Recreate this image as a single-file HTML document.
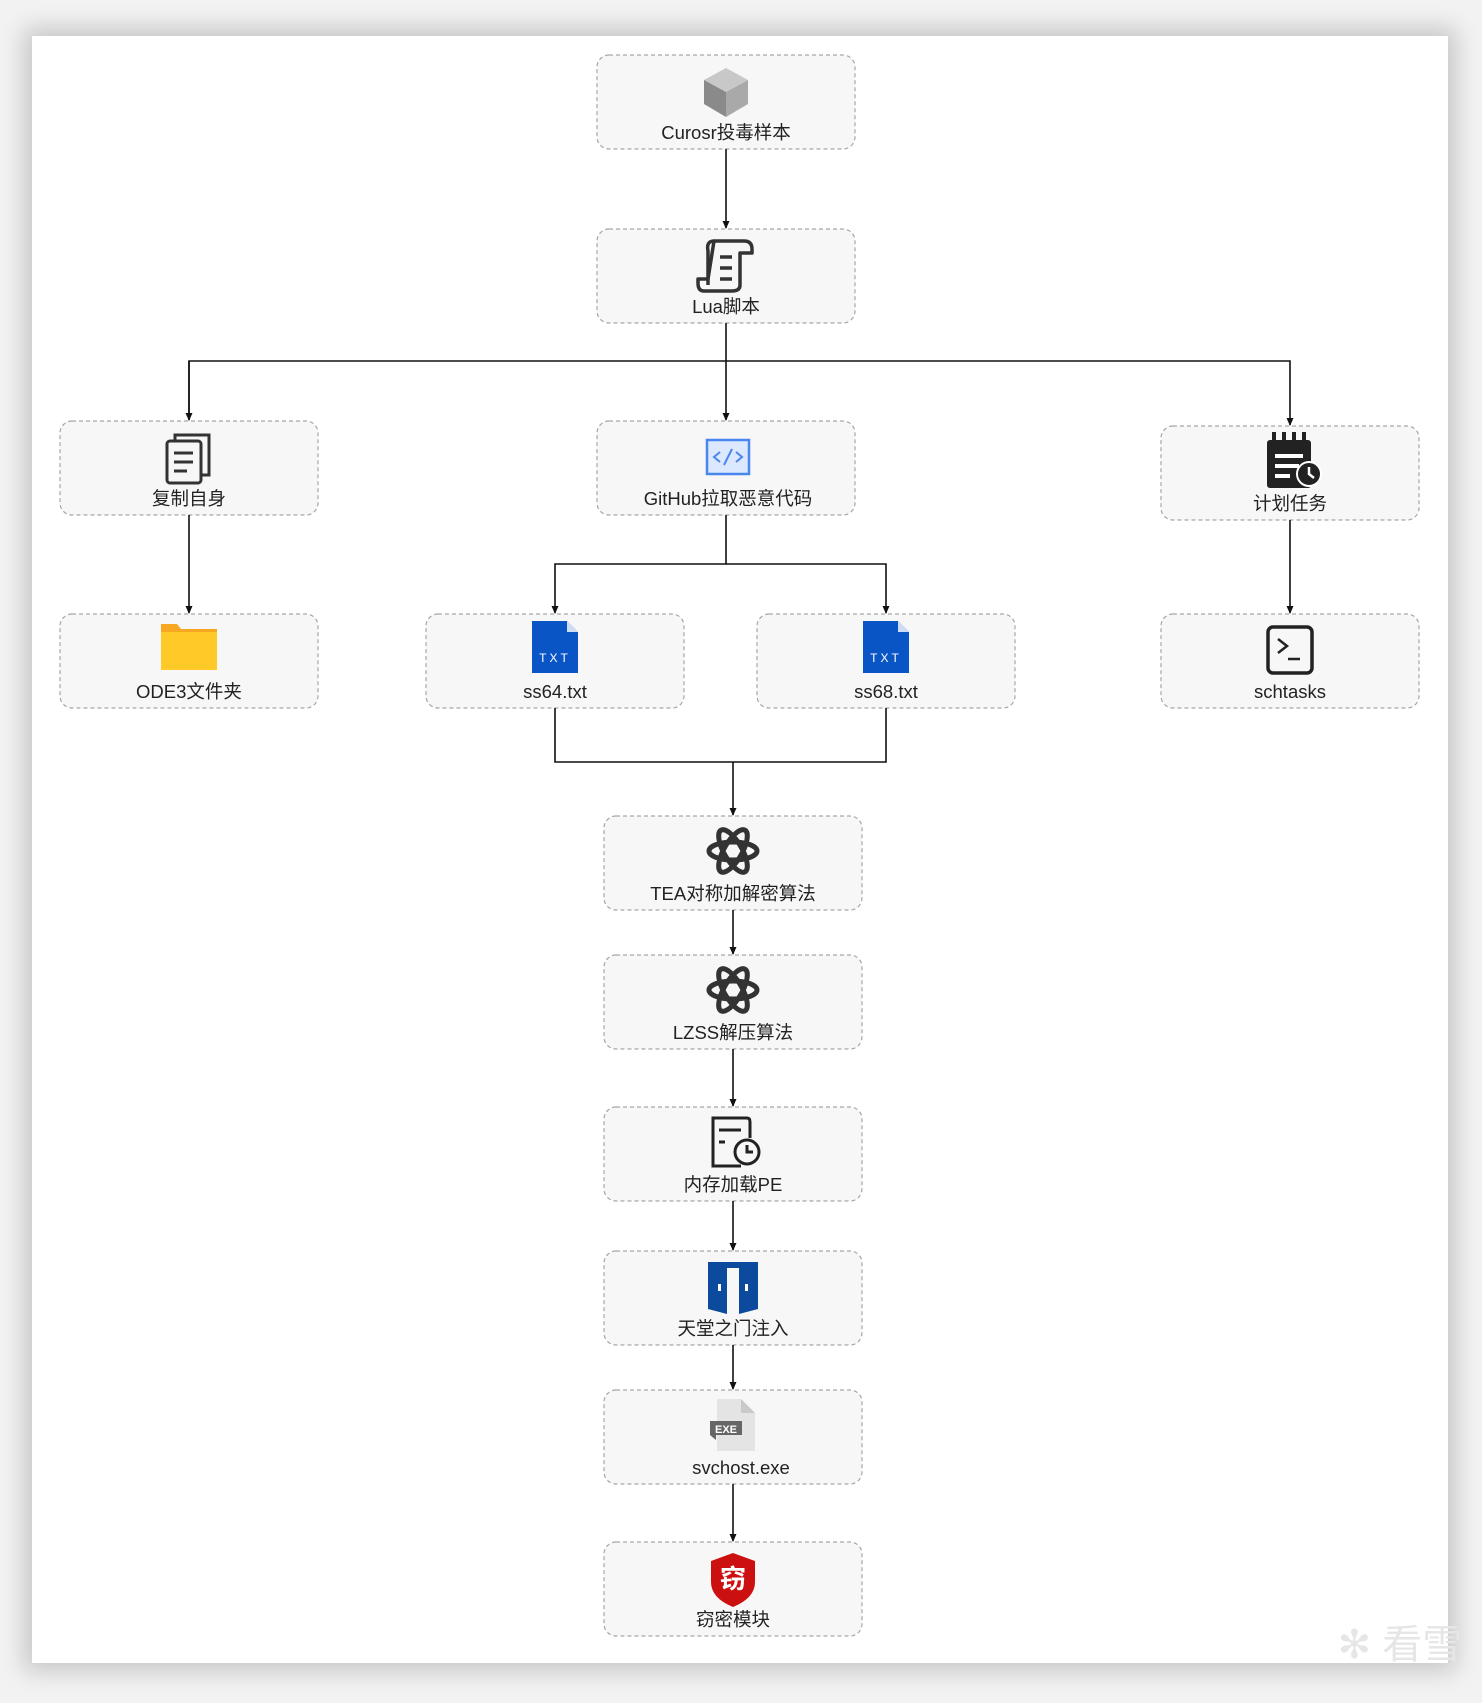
<!DOCTYPE html>
<html><head><meta charset="utf-8"><style>
html,body{margin:0;padding:0;background:#fff;}
body{width:1482px;height:1703px;position:relative;overflow:hidden;background:#f2f2f2;}
#card{position:absolute;left:32px;top:36px;width:1416px;height:1627px;background:#fff;box-shadow:0 0 22px 8px rgba(0,0,0,0.18);}
svg{position:absolute;left:0;top:0;}
text{font-family:"Liberation Sans","Noto Sans CJK SC",sans-serif;font-size:18.5px;fill:#222;text-anchor:middle;}
</style></head><body>
<div id="card"></div>
<svg width="1482" height="1703" viewBox="0 0 1482 1703">
<defs>
<marker id="a" markerWidth="8" markerHeight="8" refX="7" refY="4" orient="auto" markerUnits="userSpaceOnUse"><path d="M0,0.5 L8,4 L0,7.5 z" fill="#111"/></marker>
</defs>
<g fill="#f7f7f7" stroke="#a6a6a6" stroke-width="1.2" stroke-dasharray="4,3">
<rect x="597" y="55" width="258" height="94" rx="12"/>
<rect x="597" y="229" width="258" height="94" rx="12"/>
<rect x="60" y="421" width="258" height="94" rx="12"/>
<rect x="597" y="421" width="258" height="94" rx="12"/>
<rect x="1161" y="426" width="258" height="94" rx="12"/>
<rect x="60" y="614" width="258" height="94" rx="12"/>
<rect x="426" y="614" width="258" height="94" rx="12"/>
<rect x="757" y="614" width="258" height="94" rx="12"/>
<rect x="1161" y="614" width="258" height="94" rx="12"/>
<rect x="604" y="816" width="258" height="94" rx="12"/>
<rect x="604" y="955" width="258" height="94" rx="12"/>
<rect x="604" y="1107" width="258" height="94" rx="12"/>
<rect x="604" y="1251" width="258" height="94" rx="12"/>
<rect x="604" y="1390" width="258" height="94" rx="12"/>
<rect x="604" y="1542" width="258" height="94" rx="12"/>
</g>
<g stroke="#111" stroke-width="1.6" fill="none">
<path d="M726,149 V228" marker-end="url(#a)"/>
<path d="M726,323 V420" marker-end="url(#a)"/>
<path d="M189,420 V361 H1290 V425" marker-end="url(#a)"/>
<path d="M189,361 V420" marker-end="url(#a)"/>
<path d="M189,515 V613" marker-end="url(#a)"/>
<path d="M1290,520 V613" marker-end="url(#a)"/>
<path d="M726,515 V564 H555 V613" marker-end="url(#a)"/>
<path d="M726,564 H886 V613" marker-end="url(#a)"/>
<path d="M555,708 V762 H886 V708"/>
<path d="M733,762 V815" marker-end="url(#a)"/>
<path d="M733,910 V954" marker-end="url(#a)"/>
<path d="M733,1049 V1106" marker-end="url(#a)"/>
<path d="M733,1201 V1250" marker-end="url(#a)"/>
<path d="M733,1345 V1389" marker-end="url(#a)"/>
<path d="M733,1484 V1541" marker-end="url(#a)"/>
</g>
<g transform="translate(726,92)"><path d="M0,-24 L22,-12 L0,0 L-22,-12z" fill="#c8c8c8"/><path d="M-22,-12 L0,0 L0,25 L-22,12z" fill="#8a8a8a"/><path d="M22,-12 L0,0 L0,25 L22,12z" fill="#a9a9a9"/></g>
<g transform="translate(726,265)" fill="none" stroke="#333" stroke-width="3.5" stroke-linejoin="round"><path d="M-12,-24 H18 Q26,-24 26,-16 V-12 H14 V20 Q14,26 6,26 H-22 Q-28,26 -28,18 V14 H-18 Z"/><path d="M-12,-24 Q-20,-24 -18,-14 V20"/><path d="M-6,-8 H6 M-6,3 H6 M-6,14 H6"/></g>
<g transform="translate(189,457)" fill="none" stroke="#333" stroke-width="3"><rect x="-22" y="-16" width="34" height="42" rx="3"/><path d="M-14,-16 V-22 H20 V18 H12"/><path d="M-15,-4 H4 M-15,5 H4 M-15,14 H-2"/></g>
<g transform="translate(728,457)"><rect x="-21" y="-17" width="42" height="34" fill="#dbe8ff" stroke="#4a86f0" stroke-width="2.5"/><path d="M-8,-5 L-14,0 L-8,5 M8,-5 L14,0 L8,5 M4,-8 L-4,8" fill="none" stroke="#4a86f0" stroke-width="2"/></g>
<g transform="translate(1290,462)"><rect x="-23" y="-22" width="44" height="48" rx="3" fill="#222"/><path d="M-16,-30 v10 M-6,-30 v10 M4,-30 v10 M14,-30 v10" stroke="#222" stroke-width="4"/><path d="M-15,-6 H13 M-15,4 H9 M-15,14 H0" stroke="#fff" stroke-width="4"/><circle cx="19" cy="12" r="12" fill="#222" stroke="#fff" stroke-width="2"/><path d="M19,5 V12 L24,16" stroke="#fff" stroke-width="2.5" fill="none"/></g>
<g transform="translate(189,648)"><path d="M-28,-24 H-12 L-8,-19 H28 V20 H-28z" fill="#f7a823"/><rect x="-28" y="-16" width="56" height="38" fill="#ffc928"/></g>
<g transform="translate(555,648)"><path d="M-23,-27 H12 L23,-16 V25 H-23z" fill="#0a55c5"/><path d="M12,-27 V-16 H23z" fill="#fff" opacity=".8"/><text x="0" y="14" style="font-size:12px;fill:#fff;letter-spacing:3px">TXT</text></g>
<g transform="translate(886,648)"><path d="M-23,-27 H12 L23,-16 V25 H-23z" fill="#0a55c5"/><path d="M12,-27 V-16 H23z" fill="#fff" opacity=".8"/><text x="0" y="14" style="font-size:12px;fill:#fff;letter-spacing:3px">TXT</text></g>
<g transform="translate(1290,651)" fill="none" stroke="#222" stroke-width="3.5"><rect x="-22" y="-24" width="44" height="46" rx="5"/><path d="M-12,-12 L-3,-5 L-12,2 M-2,8 H10" stroke-width="2.5"/></g>
<g transform="translate(733,851)" fill="none" stroke="#333" stroke-width="5"><ellipse rx="24" ry="9"/><ellipse rx="24" ry="9" transform="rotate(60)"/><ellipse rx="24" ry="9" transform="rotate(-60)"/></g>
<g transform="translate(733,990)" fill="none" stroke="#333" stroke-width="5"><ellipse rx="24" ry="9"/><ellipse rx="24" ry="9" transform="rotate(60)"/><ellipse rx="24" ry="9" transform="rotate(-60)"/></g>
<g transform="translate(733,1142)" fill="none" stroke="#222" stroke-width="3"><path d="M8,24 H-20 V-24 H14 Q17,-24 17,-20 V-4"/><path d="M-14,-12 H8 M-14,0 H-8"/><circle cx="14" cy="10" r="12"/><path d="M14,3 V10 H20"/></g>
<!-- door -->
<g transform="translate(733,1287)" fill="#0b4a9c"><rect x="-25" y="-25" width="50" height="6"/><path d="M-25,-25 L-6,-19 V27 L-25,22z"/><path d="M25,-25 L6,-19 V27 L25,22z"/><rect x="-15" y="-3" width="3" height="7" fill="#fff"/><rect x="12" y="-3" width="3" height="7" fill="#fff"/></g>
<g transform="translate(733,1425)"><path d="M-16,-26 H8 L22,-12 V26 H-16z" fill="#e4e4e4"/><path d="M8,-26 V-12 H22z" fill="#c9c9c9"/><path d="M-23,-4 H9 V10 H-23z M-23,10 L-17,15 V10z" fill="#666"/><text x="-7" y="8" style="font-size:11px;fill:#fff;font-weight:bold">EXE</text></g>
<g transform="translate(733,1578)"><path d="M0,-25 L22,-17 V4 Q22,20 0,29 Q-22,20 -22,4 V-17z" fill="#cc1010"/><text x="0" y="10" style="font-size:26px;fill:#fff;font-weight:bold">窃</text></g>
<text x="726" y="139">Curosr投毒样本</text>
<text x="726" y="313">Lua脚本</text>
<text x="189" y="505">复制自身</text>
<text x="728" y="505">GitHub拉取恶意代码</text>
<text x="1290" y="510">计划任务</text>
<text x="189" y="698">ODE3文件夹</text>
<text x="555" y="698">ss64.txt</text>
<text x="886" y="698">ss68.txt</text>
<text x="1290" y="698">schtasks</text>
<text x="733" y="900">TEA对称加解密算法</text>
<text x="733" y="1039">LZSS解压算法</text>
<text x="733" y="1191">内存加载PE</text>
<text x="733" y="1335">天堂之门注入</text>
<text x="741" y="1474">svchost.exe</text>
<text x="733" y="1626">窃密模块</text>
<text x="1400" y="1658" style="font-size:40px;fill:#e6e6e6">✻ 看雪</text>
</svg>
</body></html>
